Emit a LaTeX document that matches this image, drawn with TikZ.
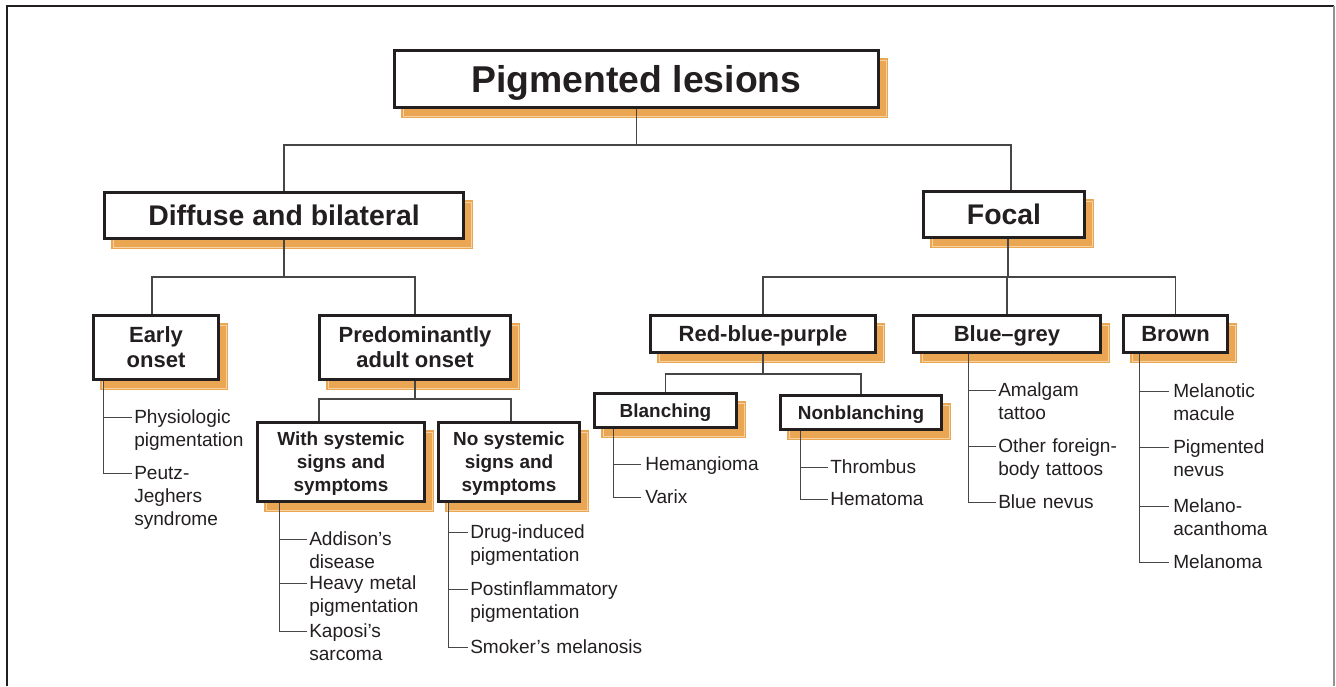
\documentclass[tikz,border=0pt]{standalone}
\usepackage{fontspec}
\setmainfont{Liberation Sans}
\usetikzlibrary{backgrounds}
\definecolor{ink}{RGB}{35,31,32}
\definecolor{shadowor}{RGB}{234,166,82}
\definecolor{shadowline}{RGB}{246,211,163}
\definecolor{wirec}{RGB}{70,70,70}
\newcommand\boxshadow[1]{%
  \fill[shadowor] ([shift={(8,9)}]#1.south west) rectangle ([shift={(8,9)}]#1.north east);
  \draw[shadowline, line width=0.5pt] ([shift={(10,7)}]#1.south west) rectangle ([shift={(6,11)}]#1.north east);}
\tikzset{
  box/.style={draw=ink, line width=2.2pt, fill=white, text=ink, align=center, inner sep=0pt, text depth=0pt},
  lvlzero/.style={box, font=\fontsize{28}{32}\selectfont\bfseries},
  lvlone/.style={box, font=\fontsize{21.3}{25}\selectfont\bfseries},
  lvltwo/.style={box, font=\fontsize{16.5}{18.75}\selectfont\bfseries},
  lvlthree/.style={box, font=\fontsize{14.2}{17.25}\selectfont\bfseries},
  leaf/.style={text=ink, font=\fontsize{14.3}{17.25}\selectfont, anchor=base west, inner sep=0pt, text width=150pt, align=left},
  wire/.style={draw=wirec, line width=0.8pt},
  twig/.style={draw=wirec, line width=0.75pt},
}
\begin{document}
\begin{tikzpicture}[x=0.75pt,y=-0.75pt]
\useasboundingbox (0,0) rectangle (1336,686);
% frame
\draw[ink, line width=1.4pt] (7,686) -- (7,6) -- (1334,6);
\draw[gray!85, line width=1.5pt] (1334,6) -- (1334,686);

% boxes
\node[lvlzero, minimum width=363pt, minimum height=42.75pt] (top) at (636.5,79) {Pigmented lesions};
\node[lvlone, minimum width=269.25pt, minimum height=34.5pt] (diff) at (284,215.5) {Diffuse and bilateral};
\node[lvlone, minimum width=120.75pt, minimum height=34.5pt] (focal) at (1004,214.5) {Focal};
\node[lvltwo, minimum width=93.75pt, minimum height=48pt] (early) at (156,347.5) {Early\\onset};
\node[lvltwo, minimum width=143.25pt, minimum height=48pt] (pred) at (415,347.5) {Predominantly\\adult onset};
\node[lvlthree, minimum width=125.25pt, minimum height=59.25pt] (ws) at (341,462) {With systemic\\signs and\\symptoms};
\node[lvlthree, minimum width=105.75pt, minimum height=59.25pt] (ns) at (509,462) {No systemic\\signs and\\symptoms};
\node[lvltwo, minimum width=168.75pt, minimum height=27.75pt] (rbp) at (763,334) {Red-blue-purple};
\node[lvltwo, minimum width=140.25pt, minimum height=27.75pt] (bg) at (1007,334) {Blue--grey};
\node[lvltwo, minimum width=78pt, minimum height=27.75pt] (brown) at (1175.5,334) {Brown};
\node[lvlthree, minimum width=106.5pt, minimum height=25.5pt] (blanch) at (665.5,410.5) {Blanching};
\node[lvlthree, minimum width=120.75pt, minimum height=25.5pt] (nonbl) at (861,412.5) {Nonblanching};

\begin{scope}[on background layer]
\boxshadow{top}\boxshadow{diff}\boxshadow{focal}\boxshadow{early}\boxshadow{pred}
\boxshadow{ws}\boxshadow{ns}\boxshadow{rbp}\boxshadow{bg}\boxshadow{brown}
\boxshadow{blanch}\boxshadow{nonbl}
\end{scope}

% tree connectors
\draw[wire] (top.south) -- ++(0,36) -| (diff.north);
\draw[wire] (top.south) -- ++(0,36) -| ([shift={(7,0)}]focal.north);
\draw[wire] (diff.south) -- ++(0,37) -| ([shift={(-4,0)}]early.north);
\draw[wire] (diff.south) -- ++(0,37) -| (pred.north);
\draw[wire] (pred.south) -- ++(0,18) -| ([shift={(-22,0)}]ws.north);
\draw[wire] (pred.south) -- ++(0,18) -| ([shift={(2,0)}]ns.north);
\draw[wire] ([shift={(4,0)}]focal.south) -- ++(0,38) -| (rbp.north);
\draw[wire] ([shift={(4,0)}]focal.south) -- ++(0,38) -| (bg.north);
\draw[wire] ([shift={(4,0)}]focal.south) -- ++(0,38) -| (brown.north);
\draw[wire] (rbp.south) -- ++(0,20) -| (blanch.north);
\draw[wire] (rbp.south) -- ++(0,20) -| (nonbl.north);

% leaves
\node[leaf] (e1) at (134,423) {Physiologic\\pigmentation};
\node[leaf] (e2) at (134,479) {Peutz-\\Jeghers\\syndrome};
\foreach \n in {e1,e2} \draw[twig] ([shift={(11,0)}]early.south west) |- ([shift={(-2,-6)}]\n.base west);

\node[leaf] (w1) at (309,545) {Addison's\\disease};
\node[leaf] (w2) at (309,589) {Heavy metal\\pigmentation};
\node[leaf] (w3) at (309,637) {Kaposi's\\sarcoma};
\foreach \n in {w1,w2,w3} \draw[twig] ([shift={(23,0)}]ws.south west) |- ([shift={(-2,-6)}]\n.base west);

\node[leaf] (n1) at (470,538) {Drug-induced\\pigmentation};
\node[leaf] (n2) at (470,595) {Postinflammatory\\pigmentation};
\node[leaf] (n3) at (470,653) {Smoker's melanosis};
\foreach \n in {n1,n2,n3} \draw[twig] ([shift={(11,0)}]ns.south west) |- ([shift={(-2,-6)}]\n.base west);

\node[leaf] (b1) at (645,470) {Hemangioma};
\node[leaf] (b2) at (645,503) {Varix};
\foreach \n in {b1,b2} \draw[twig] ([shift={(20,0)}]blanch.south west) |- ([shift={(-4,-6)}]\n.base west);

\node[leaf] (nb1) at (830,473) {Thrombus};
\node[leaf] (nb2) at (830,505) {Hematoma};
\foreach \n in {nb1,nb2} \draw[twig] ([shift={(21,0)}]nonbl.south west) |- ([shift={(-2,-6)}]\n.base west);

\node[leaf] (g1) at (998,396) {Amalgam\\tattoo};
\node[leaf] (g2) at (998,452) {Other foreign-\\body tattoos};
\node[leaf] (g3) at (998,508) {Blue nevus};
\foreach \n in {g1,g2,g3} \draw[twig] ([shift={(56,0)}]bg.south west) |- ([shift={(-2,-6)}]\n.base west);

\node[leaf] (r1) at (1173,397) {Melanotic\\macule};
\node[leaf] (r2) at (1173,453) {Pigmented\\nevus};
\node[leaf] (r3) at (1173,512) {Melano-\\acanthoma};
\node[leaf] (r4) at (1173,568) {Melanoma};
\foreach \n in {r1,r2,r3,r4} \draw[twig] ([shift={(17,0)}]brown.south west) |- ([shift={(-4,-6)}]\n.base west);
\end{tikzpicture}
\end{document}
